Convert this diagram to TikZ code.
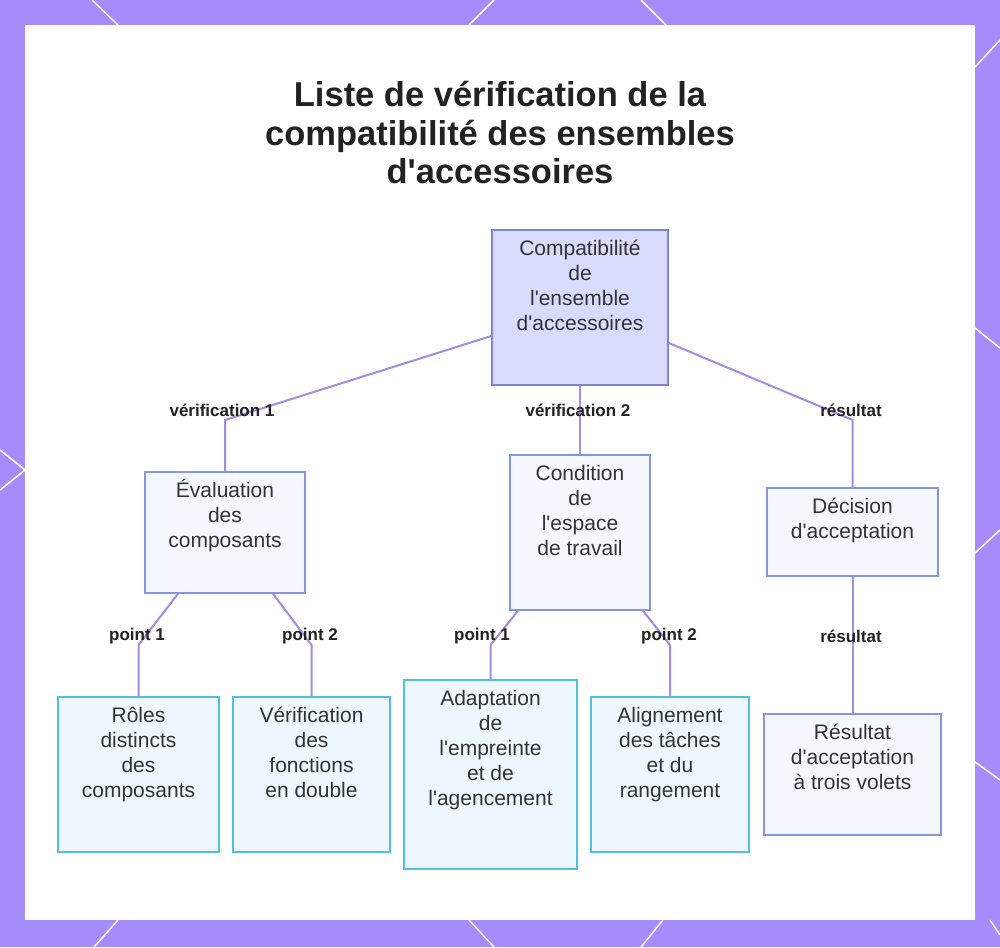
\documentclass[tikz,border=0pt]{standalone}
\usepackage{fontspec}
\setmainfont{Liberation Sans}[Ligatures=TeXOff]
\definecolor{bgpurple}{HTML}{A78BFA}
\definecolor{edgecol}{HTML}{A48BE6}
\definecolor{rootfill}{HTML}{D9DBFC}
\definecolor{rootdraw}{HTML}{7E84DA}
\definecolor{midfill}{HTML}{F5F7FF}
\definecolor{middraw}{HTML}{8496E0}
\definecolor{leaffill}{HTML}{EDF7FD}
\definecolor{leafdraw}{HTML}{52C1E0}
\definecolor{txtcol}{HTML}{333333}
\definecolor{titlecol}{HTML}{222222}
\newcommand{\boxtxt}[3]{\parbox[t][#2][t]{#1}{\centering\rule{0pt}{25pt}#3}}
\tikzset{
  basebox/.style={rectangle, inner sep=0pt, line width=1.5pt, text=txtcol,
    font=\fontsize{21}{25}\selectfont},
  rootbox/.style={basebox, fill=rootfill, draw=rootdraw},
  midbox/.style={basebox, fill=midfill, draw=middraw},
  leafbox/.style={basebox, fill=leaffill, draw=leafdraw},
  edge/.style={draw=edgecol, line width=2pt},
  elabel/.style={font=\bfseries\fontsize{17}{20}\selectfont, text=titlecol, inner sep=1pt},
  deco/.style={draw=white, line width=1.5pt}
}
\begin{document}
\begin{tikzpicture}[x=1pt,y=-1pt]
\useasboundingbox (0,0) rectangle (1000,947);
\fill[bgpurple] (0,0) rectangle (1000,947);
% decorative white lines on the frame
\draw[deco] (92,0) -- (118,25);
\draw[deco] (494,0) -- (469,25);
\draw[deco] (641,0) -- (666,25);
\draw[deco] (1000,40) -- (975,67);
\draw[deco] (975,328) -- (1000,348);
\draw[deco] (975,553) -- (1000,530);
\draw[deco] (975,762) -- (1000,780);
\draw[deco] (0,450) -- (25,470);
\draw[deco] (0,490) -- (25,470);
\draw[deco] (118,920) -- (94,947);
\draw[deco] (469,920) -- (494,947);
\draw[deco] (663,920) -- (641,947);
\draw[deco] (990,920) -- (1000,935);
% panel
\fill[white] (25,25) rectangle (975,920);

% title
\node[font=\bfseries\fontsize{34.5}{38.5}\selectfont, align=center, text=titlecol] (title) at (500,133)
  {Liste de vérification de la\\compatibilité des ensembles\\d'accessoires};

% nodes
\node[rootbox, minimum width=176, minimum height=155] (root) at (580,307.5)
  {\boxtxt{176pt}{155pt}{Compatibilité\\de\\l'ensemble\\d'accessoires}};
\node[midbox, minimum width=160, minimum height=121] (eval) at (225,532.5)
  {\boxtxt{160pt}{121pt}{Évaluation\\des\\composants}};
\node[midbox, minimum width=140, minimum height=155] (cond) at (580,532.5)
  {\boxtxt{140pt}{155pt}{Condition\\de\\l'espace\\de travail}};
\node[midbox, minimum width=171, minimum height=88] (dec) at (852.5,532)
  {\boxtxt{171pt}{88pt}{Décision\\d'acceptation}};
\node[leafbox, minimum width=161, minimum height=155] (roles) at (138.5,774.5)
  {\boxtxt{161pt}{155pt}{Rôles\\distincts\\des\\composants}};
\node[leafbox, minimum width=157, minimum height=155] (verif) at (311.5,774.5)
  {\boxtxt{157pt}{155pt}{Vérification\\des\\fonctions\\en double}};
\node[leafbox, minimum width=173, minimum height=189] (adapt) at (490.5,774.5)
  {\boxtxt{173pt}{189pt}{Adaptation\\de\\l'empreinte\\et de\\l'agencement}};
\node[leafbox, minimum width=158, minimum height=155] (align) at (670,774.5)
  {\boxtxt{158pt}{155pt}{Alignement\\des tâches\\et du\\rangement}};
\node[midbox, minimum width=177, minimum height=121] (res) at (852.5,774.5)
  {\boxtxt{177pt}{121pt}{Résultat\\d'acceptation\\à trois volets}};

% connectors
\draw[edge] ([yshift=-28.5pt]root.west) -- (225,420) -- (eval.north);
\draw[edge] (root.south) -- (cond.north);
\draw[edge] ([yshift=-35.5pt]root.east) -- (852.5,420) -- (dec.north);
\draw[edge] ([xshift=-47pt]eval.south) -- (roles.north |- 0,645) -- (roles.north);
\draw[edge] ([xshift=48pt]eval.south) -- (verif.north |- 0,645) -- (verif.north);
\draw[edge] ([xshift=-62pt]cond.south) -- (adapt.north |- 0,645) -- (adapt.north);
\draw[edge] ([xshift=63pt]cond.south) -- (align.north |- 0,645) -- (align.north);
\draw[edge] (dec.south) -- (res.north);

% connector labels
\node[elabel] (l1) at (222,410) {vérification 1};
\node[elabel] (l2) at (578,410) {vérification 2};
\node[elabel] (l3) at (851,410) {résultat};
\node[elabel] (l4) at (137,636) {point 1};
\node[elabel] (l5) at (310,636) {point 2};
\node[elabel] (l6) at (482,636) {point 1};
\node[elabel] (l7) at (669,636) {point 2};
\node[elabel] (l8) at (851,636) {résultat};
\end{tikzpicture}
\end{document}
